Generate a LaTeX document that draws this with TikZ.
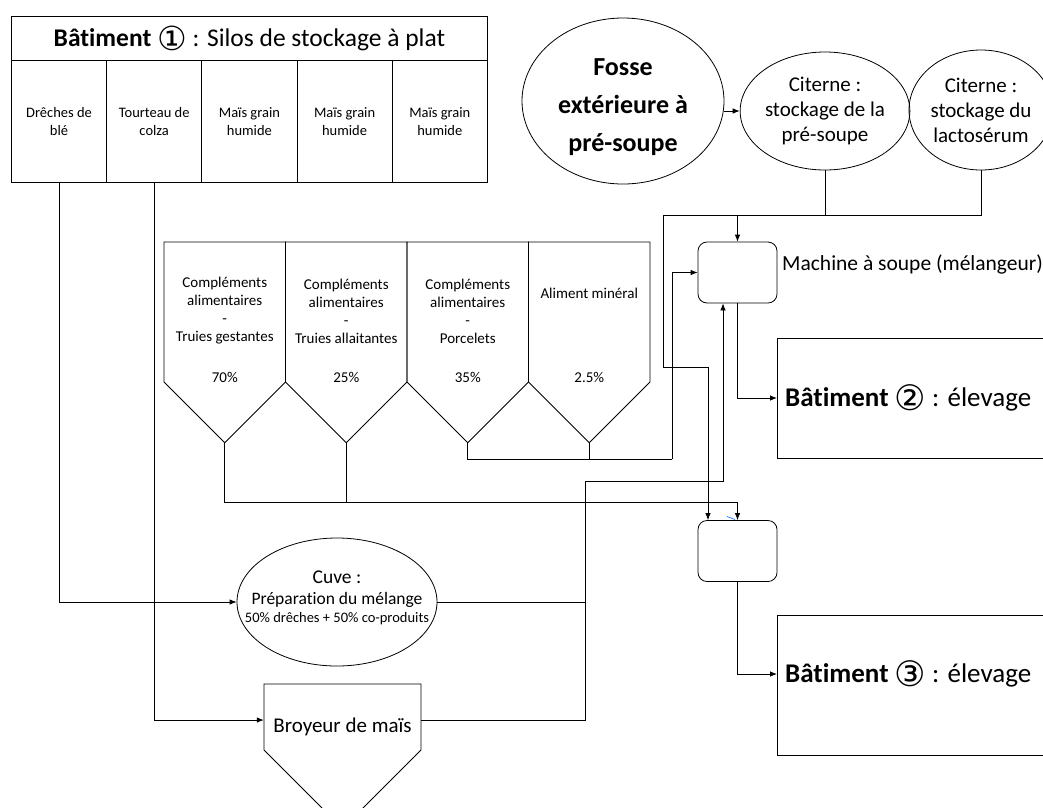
\documentclass[tikz,border=0pt]{standalone}
\usepackage{fontspec}
\setmainfont{Carlito}[Ligatures=NoCommon]
\newfontfamily\dejavu{DejaVu Sans}
\usetikzlibrary{shapes.geometric,arrows.meta}
\newcommand{\circnum}[1]{{\dejavu\fontsize{1.3em}{1em}\selectfont\raisebox{-0.1em}{#1}}}
\tikzset{
  conn/.style={draw, line width=0.8pt},
  arr/.style={conn, -{Latex[length=7pt,width=5.5pt]}},
  col/.style={draw, line width=0.8pt, minimum width=95.2pt, minimum height=122pt, inner sep=0, align=center, anchor=north west, font=\fontsize{14.5}{17.5}\selectfont},
  silotxt/.style={inner sep=0, align=center, font=\fontsize{15}{18}\selectfont},
  cit/.style={ellipse, draw, line width=0.8pt, inner sep=0, align=center, font=\fontsize{21}{25}\selectfont},
  rbox/.style={draw, line width=0.8pt, rounded corners=9pt, minimum width=79pt, minimum height=61pt, inner sep=0},
  batbox/.style={draw, line width=0.8pt, anchor=north west, minimum width=290pt, inner sep=0},
  battxt/.style={anchor=west, inner xsep=8pt, inner ysep=0, font=\fontsize{27}{31}\selectfont},
}
\begin{document}
\begin{tikzpicture}[x=1pt,y=-1pt]
\useasboundingbox (0,0) rectangle (1043,807);
\clip (0,0) rectangle (1043,807);
\fill[white] (0,0) rectangle (1043,807);

% Batiment 1
\node[draw, line width=0.8pt, anchor=north west, minimum width=476pt, minimum height=44pt, inner sep=0, font=\fontsize{25.5}{29}\selectfont] (b1title) at (11,16) {\textbf{Bâtiment} \circnum{①} : Silos de stockage à plat};
\node[col] (b1c1) at (11,60) {Drêches de\\blé};
\node[col] (b1c2) at (106.2,60) {Tourteau de\\colza};
\node[col] (b1c3) at (201.4,60) {Maïs grain\\humide};
\node[col] (b1c4) at (296.6,60) {Maïs grain\\humide};
\node[col] (b1c5) at (391.8,60) {Maïs grain\\humide};

% Fosse and citernes
\node[ellipse, draw, line width=0.8pt, minimum width=202pt, minimum height=166pt, inner sep=0] (fosse) at (623,101) {};
\node[inner sep=0, align=center, font=\fontsize{26}{38}\selectfont\bfseries] (fossetxt) at (623,107) {Fosse\\extérieure à\\pré-soupe};
\node[cit, minimum width=152pt, minimum height=118pt] (cit1) at (825,111) {Citerne :\\stockage de la\\pré-soupe};
\node[cit, minimum width=144pt, minimum height=120pt] (cit2) at (981,110) {Citerne :\\stockage du\\lactosérum};

% Silos
\foreach \L/\n in {164/1,285.5/2,407/3,528.5/4}{
  \draw[line width=0.8pt] (\L,242) -- ++(121.5,0) -- ++(0,140) -- ++(-60.75,60.75) coordinate (t\n) -- ++(-60.75,-60.75) -- cycle;
}
\node[silotxt] (s1) at (224.75,311) {Compléments\\alimentaires\\-\\Truies gestantes};
\node[silotxt] (s2) at (346.25,311) {Compléments\\alimentaires\\-\\Truies allaitantes};
\node[silotxt] (s3) at (467.75,311) {Compléments\\alimentaires\\-\\Porcelets};
\node[silotxt] (s4) at (589.25,293) {Aliment minéral};
\node[silotxt] (p1) at (224.75,377) {70\%};
\node[silotxt] (p2) at (346.25,377) {25\%};
\node[silotxt] (p3) at (467.75,377) {35\%};
\node[silotxt] (p4) at (589.25,377) {2.5\%};

% Machine and mixer 2
\node[rbox] (mach) at (737.5,272.5) {};
\node[anchor=west, inner sep=0, font=\fontsize{21.5}{24}\selectfont] (machlbl) at (782,264) {Machine à soupe (mélangeur)};
\node[rbox] (mix2) at (737.5,551) {};

% Batiments 2 and 3
\node[batbox, minimum height=120pt] (bat2) at (777,338) {};
\node[battxt] (bat2txt) at (777,398) {\textbf{Bâtiment} \circnum{②} : élevage};
\node[batbox, minimum height=140pt] (bat3) at (777,615) {};
\node[battxt] (bat3txt) at (777,674) {\textbf{Bâtiment} \circnum{③} : élevage};

% Cuve
\node[ellipse, draw, line width=0.8pt, minimum width=200pt, minimum height=128pt, inner sep=0] (cuve) at (337,602) {};
\node[inner sep=0, font=\fontsize{19.5}{22}\selectfont] (cuveA) at (337,577) {Cuve :};
\node[inner sep=0, font=\fontsize{17.5}{20}\selectfont] (cuveB) at (337,600) {Préparation du mélange};
\node[inner sep=0, font=\fontsize{14.5}{17}\selectfont] (cuveC) at (337,619) {50\% drêches + 50\% co-produits};

% Broyeur
\draw[line width=0.8pt] (264,684) -- (421,684) -- (421,750) -- (342.5,828.5) -- (264,750) -- cycle;
\node[minimum width=157pt, minimum height=72pt, inner sep=0] (broy) at (342.5,720) {};
\node[inner sep=0, font=\fontsize{21}{24}\selectfont] (broylbl) at (342.5,727) {Broyeur de maïs};

% Junction coordinates
\coordinate (j1) at (585,481);
\coordinate (bus1) at (737.5,502);
\coordinate (bus2) at (672,459);
\coordinate (bus3) at (663,215);
\coordinate (bend) at (708,367);

% Connectors
\draw[arr] (fosse.east |- cit1.west) -- (cit1.west);
\draw[arr] (b1c1.south) |- (cuve.west);
\draw[arr] (b1c2.south) |- (broy.west);
\draw[conn] (cuve.east) -| (j1);
\draw[conn] (broy.east) -| (j1);
\draw[arr] (j1) -| ([xshift=-14.5pt]mach.south);
\draw[conn] (t1) |- (bus1);
\draw[conn] (t2) -- (t2 |- bus1);
\draw[arr] (bus1) -- (mix2.north);
\draw[conn] (t3) |- (bus2);
\draw[conn] (t4) -- (t4 |- bus2);
\draw[arr] (bus2) |- (mach.west);
\draw[conn] (cit2.south) |- (bus3);
\draw[conn] (cit1.south) -- (cit1.south |- bus3);
\draw[arr] (mach.north |- bus3) -- (mach.north);
\draw[arr] (bus3) |- (bend) -- ([xshift=-29.5pt]mix2.north);
\draw[arr] (mach.south) |- (bat2txt.west);
\draw[arr] (mix2.south) |- (bat3txt.west);
\draw[blue!60!cyan, line width=0.6pt] (727,516.5) -- (735,519.5);
\end{tikzpicture}
\end{document}
